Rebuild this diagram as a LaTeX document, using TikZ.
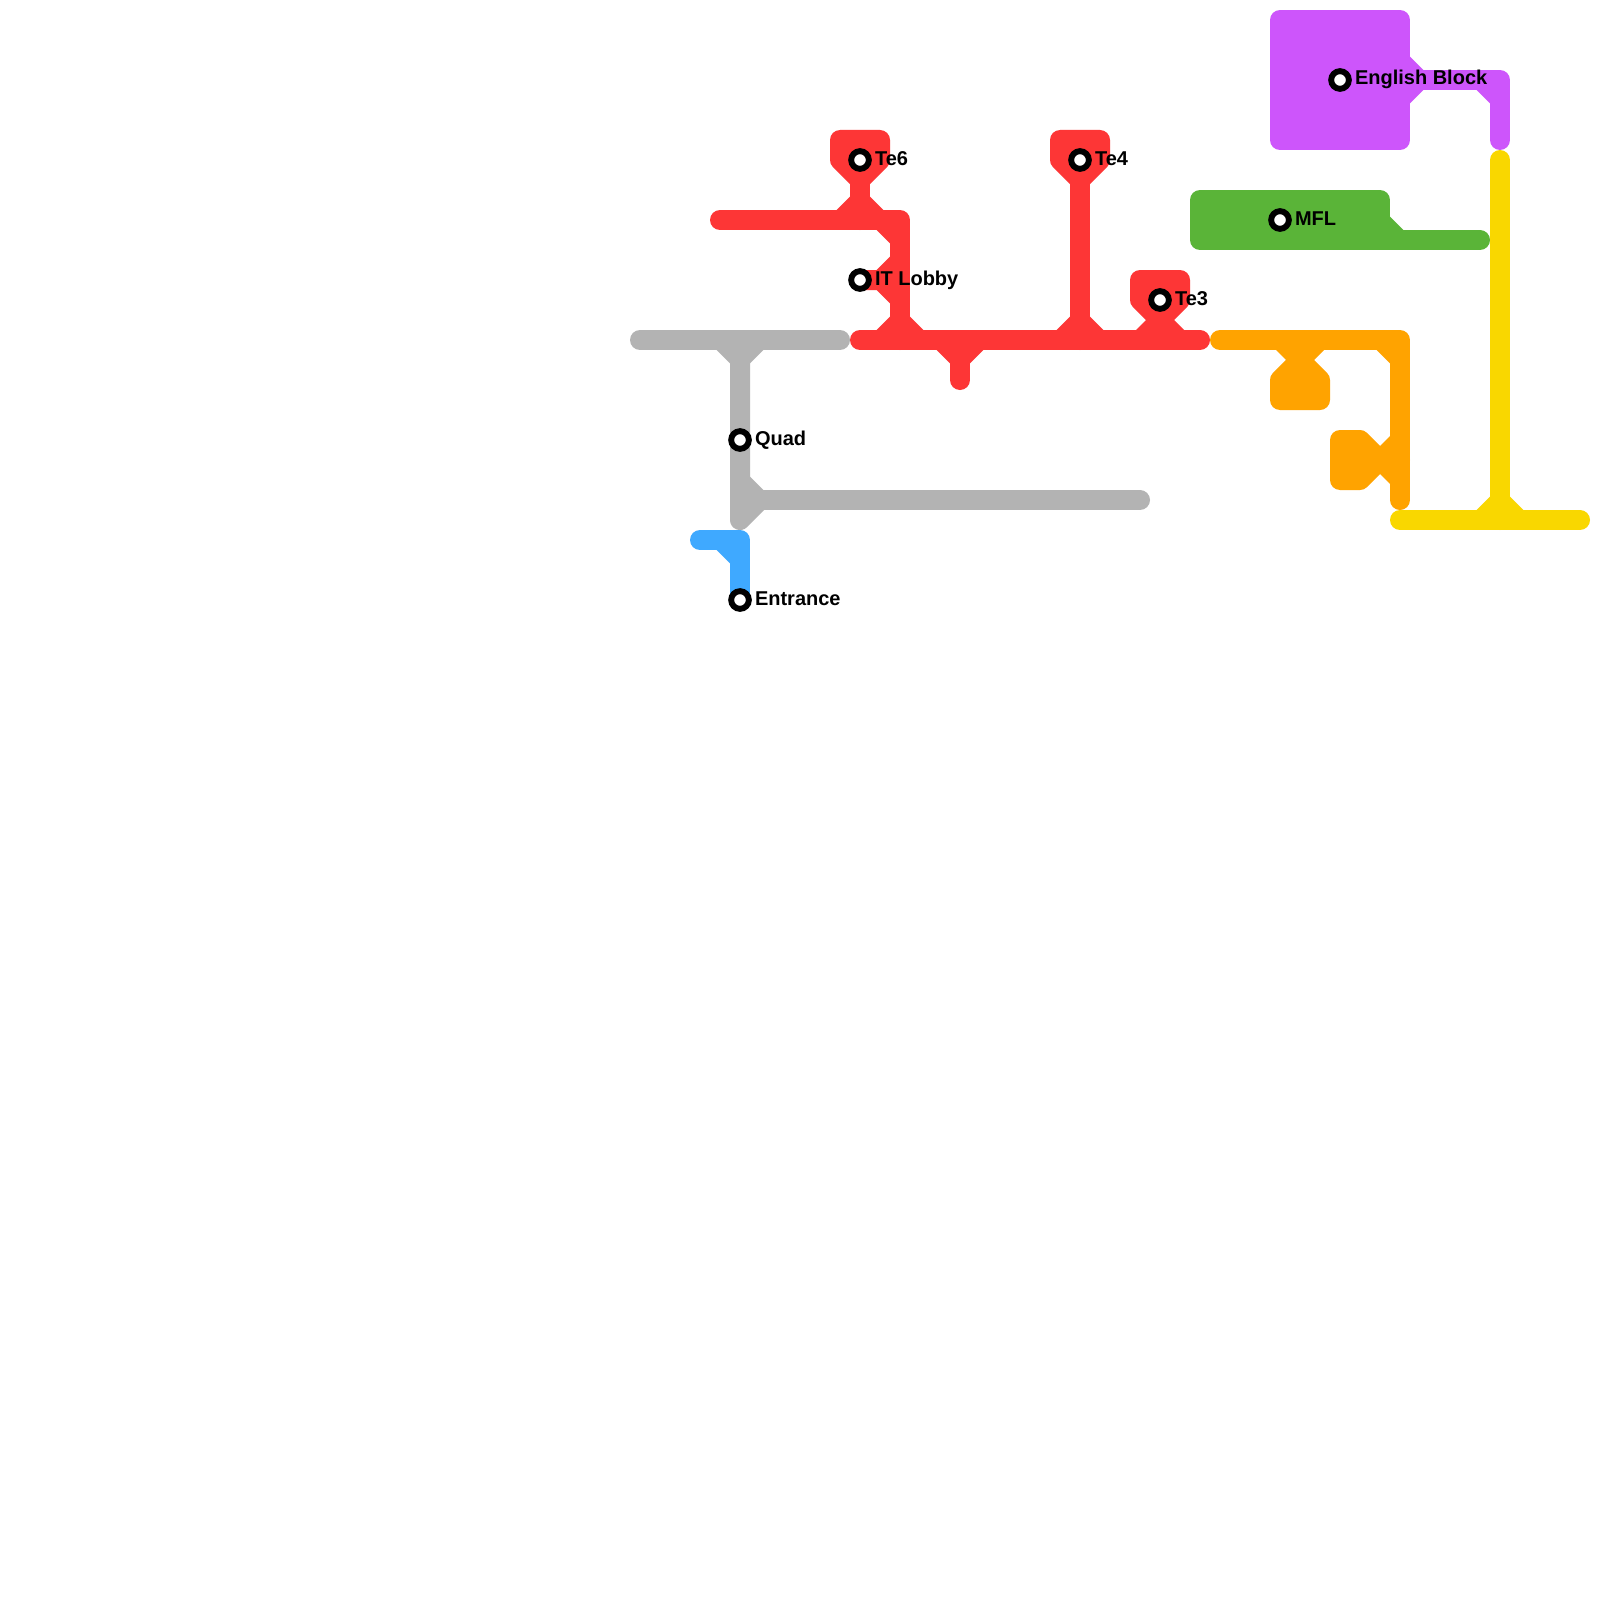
\documentclass[tikz,border=0pt]{standalone}
\usepackage{fontspec}
\setmainfont{Liberation Sans}
\definecolor{cred}{HTML}{FD3636}
\definecolor{cgrey}{HTML}{B3B3B3}
\definecolor{cblue}{HTML}{3FA9FF}
\definecolor{corange}{HTML}{FFA300}
\definecolor{cyellow}{HTML}{F9D700}
\definecolor{cgreen}{HTML}{5AB438}
\definecolor{cpurple}{HTML}{CD55FB}
\tikzset{
  route/.style={line width=10pt,line join=round,line cap=round},
  stn/.style={circle,draw=black,fill=white,line width=2.95pt,minimum size=8.85pt,inner sep=0pt,outer sep=0pt},
  lab/.style={anchor=base west,inner sep=0pt,outer sep=0pt,font=\fontsize{10}{12}\selectfont\bfseries,text=black}
}
\begin{document}
\begin{tikzpicture}[x=0.5pt,y=-0.5pt]
\useasboundingbox (0,0) rectangle (1600,1600);
\fill[white] (0,0) rectangle (1600,1600);
% grey
\begin{scope}[color=cgrey]
\draw[route] (640,340) -- (840,340);
\draw[route] (740,340) -- (740,520) -- (760,500);
\draw[route] (740,500) -- (1140,500);
\fill (716.7,350) -- (730,363.3) -- (750,363.3) -- (763.3,350) -- cycle;
\fill (750,476.7) -- (763.3,490) -- (750,490) -- cycle;
\end{scope}
% blue
\begin{scope}[color=cblue]
\draw[route] (700,540) -- (740,540) -- (740,600);
\fill (716.7,550) -- (730,550) -- (730,563.3) -- cycle;
\end{scope}
% red
\begin{scope}[color=cred]
\draw[route] (720,220) -- (900,220) -- (900,340);
\draw[route] (860,340) -- (1200,340);
\draw[route] (960,340) -- (960,380);
\draw[route] (1080,340) -- (1080,160);
\draw[route] (860,220) -- (860,160);
\draw[route,fill] (840,140) -- (880,140) -- (880,160) -- (860,180) -- (840,160) -- cycle;
\draw[route,fill] (1060,140) -- (1100,140) -- (1100,160) -- (1080,180) -- (1060,160) -- cycle;
\draw[route,fill] (1140,280) -- (1180,280) -- (1180,300) -- (1160,320) -- (1140,300) -- cycle;
\fill (836.7,210) -- (850,196.7) -- (870,196.7) -- (883.3,210) -- cycle;
\fill (876.7,230) -- (890,230) -- (890,243.3) -- cycle;
\fill (890,256.7) -- (876.7,270) -- (860,270) -- (860,290) -- (876.7,290) -- (890,303.3) -- cycle;
\fill (876.7,330) -- (890,316.7) -- (910,316.7) -- (923.3,330) -- cycle;
\fill (1056.7,330) -- (1070,316.7) -- (1090,316.7) -- (1103.3,330) -- cycle;
\fill (936.7,350) -- (950,363.3) -- (970,363.3) -- (983.3,350) -- cycle;
\fill (1136,330) -- (1146,320) -- (1174,320) -- (1184,330) -- cycle;
\end{scope}
% orange
\begin{scope}[color=corange]
\draw[route] (1220,340) -- (1400,340) -- (1400,500);
\draw[route] (1300,340) -- (1300,360);
\draw[route,fill] (1280,380) -- (1300,360) -- (1320,380) -- (1320,400) -- (1280,400) -- cycle;
\draw[route,fill] (1340,440) -- (1360,440) -- (1380,460) -- (1360,480) -- (1340,480) -- cycle;
\draw[route] (1380,460) -- (1400,460);
\fill (1276,350) -- (1286,360) -- (1314,360) -- (1324,350) -- cycle;
\fill (1376.7,350) -- (1390,350) -- (1390,363.3) -- cycle;
\fill (1380,446) -- (1390,436) -- (1390,484) -- (1380,474) -- cycle;
\end{scope}
% green
\begin{scope}[color=cgreen]
\draw[route,fill] (1200,200) -- (1380,200) -- (1380,240) -- (1200,240) -- cycle;
\draw[route] (1380,240) -- (1480,240);
\fill (1390,216.7) -- (1403.3,230) -- (1390,230) -- cycle;
\end{scope}
% purple
\begin{scope}[color=cpurple]
\draw[route,fill] (1280,20) -- (1400,20) -- (1400,140) -- (1280,140) -- cycle;
\draw[route] (1340,80) -- (1500,80) -- (1500,140);
\fill (1410,56.7) -- (1423.3,70) -- (1423.3,90) -- (1410,103.3) -- cycle;
\fill (1476.7,90) -- (1490,90) -- (1490,103.3) -- cycle;
\end{scope}
% yellow
\begin{scope}[color=cyellow]
\draw[route] (1500,160) -- (1500,520);
\draw[route] (1400,520) -- (1580,520);
\fill (1476.7,510) -- (1490,496.7) -- (1510,496.7) -- (1523.3,510) -- cycle;
\end{scope}
% stations
\node[stn] (te6) at (860,160) {};
\node[stn] (te4) at (1080,160) {};
\node[stn] (itl) at (860,280) {};
\node[stn] (te3) at (1160,300) {};
\node[stn] (eng) at (1340,80) {};
\node[stn] (mfl) at (1280,220) {};
\node[stn] (qud) at (740,440) {};
\node[stn] (ent) at (740,600) {};
% labels
\node[lab] (lte6) at (875,165) {Te6};
\node[lab] (lte4) at (1095,165) {Te4};
\node[lab] (litl) at (875,285) {IT Lobby};
\node[lab] (lte3) at (1175,305) {Te3};
\node[lab] (leng) at (1355,85) {English Block};
\node[lab] (lmfl) at (1295,225) {MFL};
\node[lab] (lqud) at (755,445) {Quad};
\node[lab] (lent) at (755,605) {Entrance};
\end{tikzpicture}
\end{document}
